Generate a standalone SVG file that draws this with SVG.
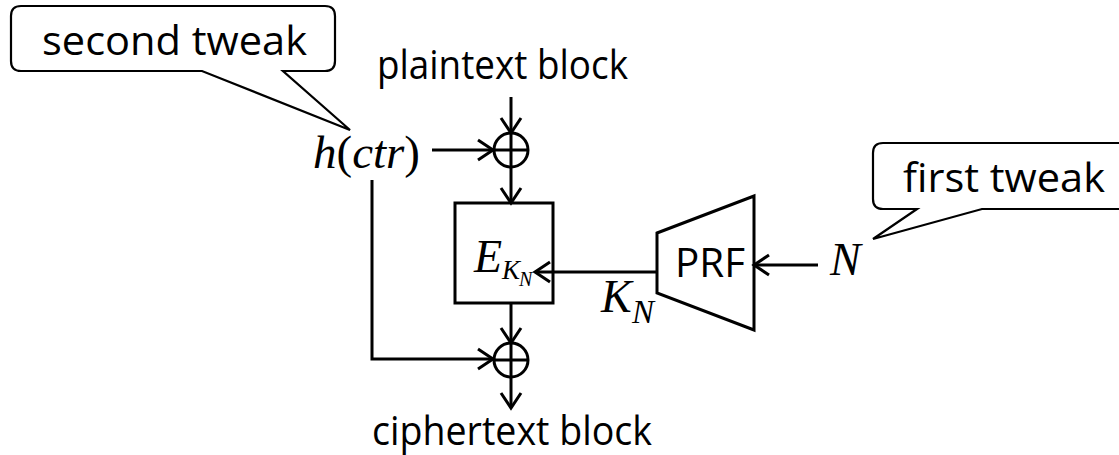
<svg xmlns="http://www.w3.org/2000/svg" width="1119" height="455" viewBox="0 0 1119 455">
<style>
.ln{fill:none;stroke:#000;stroke-width:3}
.co{fill:#fff;stroke:#000;stroke-width:2.2}
.sans{font-family:"Open Sans","Liberation Sans",sans-serif;font-size:41px;fill:#000}
.math{font-family:"Liberation Serif","DejaVu Serif",serif;font-style:italic;fill:#000}
.up{font-style:normal}
</style>
<defs>
<marker id="arr" markerUnits="userSpaceOnUse" markerWidth="40" markerHeight="40" refX="20" refY="20" orient="auto" overflow="visible">
<path d="M5,10 L20,20 L5,30" fill="none" stroke="#000" stroke-width="3"/>
</marker>
</defs>
<rect width="1119" height="455" fill="#fff"/>
<g id="callout-second">
<path class="co" d="M21,6 H325 Q335,6 335,16 V61 Q335,71 325,71 H283 L350,130 L202,71 H21 Q11,71 11,61 V16 Q11,6 21,6 Z"/>
<text class="sans" x="42" y="55" textLength="265" lengthAdjust="spacingAndGlyphs">second tweak</text>
</g>
<g id="callout-first">
<path class="co" d="M883,143 H1130 V209 H982 L873,239 L917,209 H883 Q873,209 873,199 V153 Q873,143 883,143 Z"/>
<text class="sans" x="903" y="192" textLength="202" lengthAdjust="spacingAndGlyphs">first tweak</text>
</g>
<g id="plaintext">
<text class="sans" x="377" y="79" textLength="251" lengthAdjust="spacingAndGlyphs">plaintext block</text>
</g>
<g id="ciphertext">
<text class="sans" x="372" y="445" textLength="280" lengthAdjust="spacingAndGlyphs">ciphertext block</text>
</g>
<g id="hctr">
<text class="math" x="313" y="168" font-size="46" textLength="107" lengthAdjust="spacingAndGlyphs">h<tspan class="up">(</tspan>ctr<tspan class="up">)</tspan></text>
</g>
<g id="xor1">
<circle class="ln" cx="511" cy="150" r="17"/>
<path class="ln" d="M494,150 H528 M511,133 V167"/>
</g>
<g id="xor2">
<circle class="ln" cx="511" cy="360" r="17"/>
<path class="ln" d="M494,360 H528 M511,343 V377"/>
</g>
<g id="cipher-box">
<rect class="ln" x="455" y="203" width="98" height="100"/>
<text class="math" x="474" y="272" font-size="46">E</text>
<text class="math" x="502" y="279" font-size="27">K</text>
<text class="math" x="519" y="286" font-size="20">N</text>
</g>
<g id="prf">
<path class="ln" d="M657,233 L754,196 L754,330 L657,293 Z"/>
<text class="sans" x="675" y="277" textLength="70" lengthAdjust="spacingAndGlyphs">PRF</text>
</g>
<g id="kn-label">
<text class="math" x="601" y="312" font-size="46">K</text>
<text class="math" x="632" y="323" font-size="33">N</text>
</g>
<g id="n-label">
<text class="math" x="830" y="275" font-size="46">N</text>
</g>
<g id="connectors">
<path class="ln" d="M511,97 V133" marker-end="url(#arr)"/>
<path class="ln" d="M432,150 H493" marker-end="url(#arr)"/>
<path class="ln" d="M511,167 V203" marker-end="url(#arr)"/>
<path class="ln" d="M511,303 V343" marker-end="url(#arr)"/>
<path class="ln" d="M511,377 V408" marker-end="url(#arr)"/>
<path class="ln" d="M372,180 V359 H493" marker-end="url(#arr)"/>
<path class="ln" d="M657,272 H535" marker-end="url(#arr)"/>
<path class="ln" d="M818,265 H754" marker-end="url(#arr)"/>
</g>
</svg>
